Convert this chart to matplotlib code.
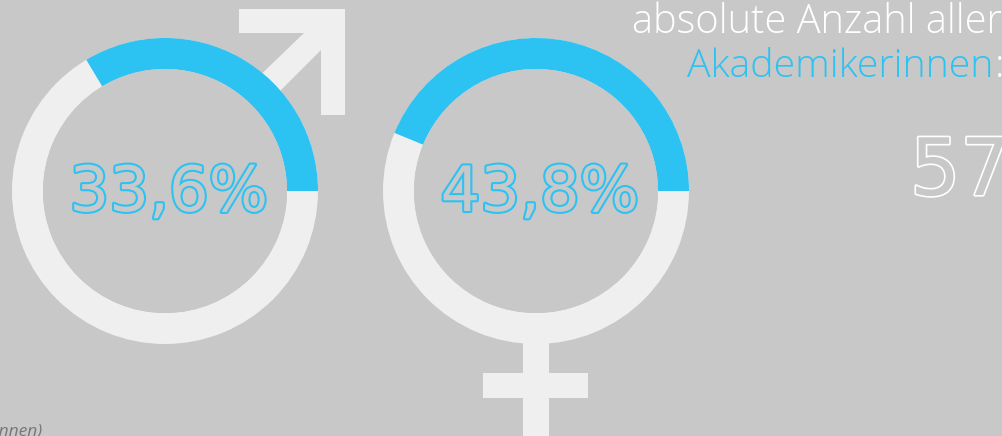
import matplotlib
matplotlib.use("Agg")
import matplotlib.pyplot as plt
import matplotlib.patheffects as pe
from matplotlib.patches import Wedge, Polygon, Rectangle

BG = '#c8c8c8'
LIGHT = '#efefef'
BLUE = '#2cc2f2'

# share of academics, men and women
labels = ['33,6%', '43,8%']
shares = [33.6, 43.8]
centers = [165, 536]

plt.rcParams['font.family'] = ['Open Sans', 'DejaVu Sans']

fig = plt.figure(figsize=(10.02, 4.36), dpi=100, facecolor=BG)
ax = fig.add_axes([0, 0, 1, 1])
ax.set_xlim(0, 1002)
ax.set_ylim(436, 0)
ax.axis('off')

# male symbol
ax.add_patch(Polygon([(239, 9), (345, 9), (345, 115), (321, 115), (321, 50), (270, 101),
                      (250, 85), (304, 33), (239, 33)], fc=LIGHT, ec='none'))
# female symbol
ax.add_patch(Rectangle((523, 340), 26, 96, fc=LIGHT, ec='none'))
ax.add_patch(Rectangle((483, 373), 105, 25, fc=LIGHT, ec='none'))

for cx, share, label in zip(centers, shares, labels):
    ax.add_patch(Wedge((cx, 191), 153, 0, 360, width=31, fc=LIGHT, ec='none'))
    # y axis is inverted, so the blue part runs from -sweep to 0
    ax.add_patch(Wedge((cx, 191), 153, -share * 3.6, 0, width=31, fc=BLUE, ec='none'))
    ax.add_patch(Wedge((cx, 191), 122, 0, 360, fc=BG, ec='none'))
    ax.text(cx + 4, 211, label, fontsize=45, color=BG, ha='center', va='baseline',
            family='DejaVu Sans',
            path_effects=[pe.withStroke(linewidth=3, foreground=BLUE)])

ax.text(1002, 33, 'absolute Anzahl aller', fontsize=28.7, color='white', ha='right', va='baseline',
        fontweight='light')
ax.text(993, 77, 'Akademikerinnen', fontsize=28.3, color=BLUE, ha='right', va='baseline',
        fontweight='light')
ax.text(995, 77, ':', fontsize=28.3, color='white', ha='left', va='baseline', fontweight='light')
ax.text(910, 195, '57', fontsize=57, color=BG, ha='left', va='baseline',
        family='DejaVu Sans',
        path_effects=[pe.withStroke(linewidth=2.4, foreground='white')])
ax.text(43, 435, '(Akademikerinnen)', fontsize=12.5, color='#777777', ha='right', va='baseline',
        style='italic')

fig.savefig('out.png', dpi=100, facecolor=BG)
